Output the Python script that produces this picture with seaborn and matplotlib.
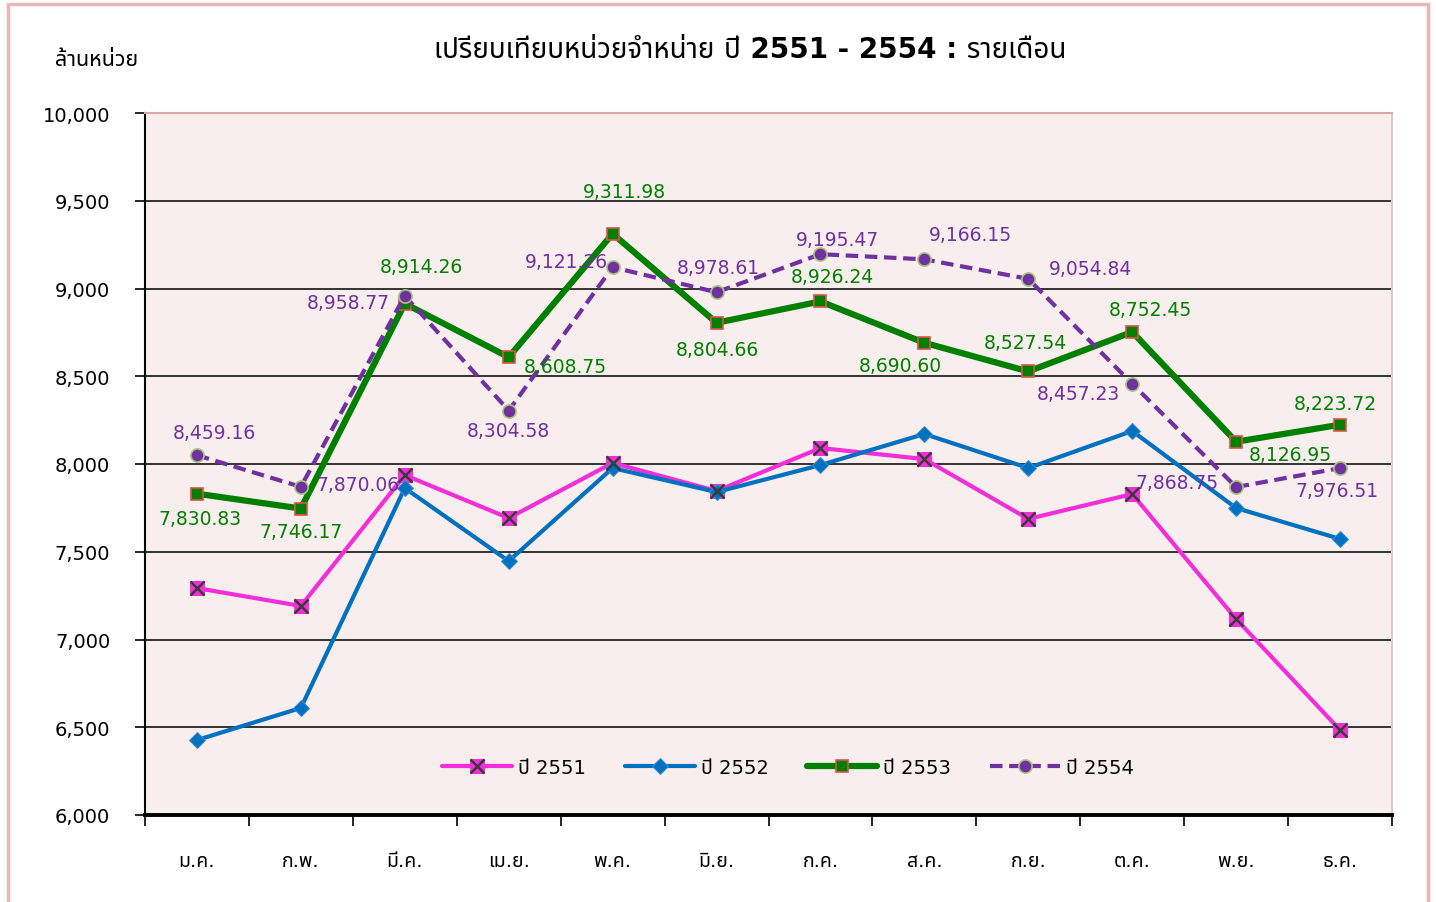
import matplotlib
matplotlib.use('Agg')
import matplotlib.pyplot as plt
import matplotlib.font_manager as fm
from matplotlib.patches import Rectangle
from matplotlib.ticker import FuncFormatter, MultipleLocator
from matplotlib.legend_handler import HandlerTuple
import seaborn as sns
import pandas as pd

#----------- DATA -----------
months = ['ม.ค.', 'ก.พ.', 'มี.ค.', 'เม.ย.', 'พ.ค.', 'มิ.ย.',
          'ก.ค.', 'ส.ค.', 'ก.ย.', 'ต.ค.', 'พ.ย.', 'ธ.ค.']
y2551 = [7293, 7191, 7937, 7692, 8006, 7846, 8091, 8028, 7687, 7829, 7117, 6484]
y2552 = [6427, 6610, 7863, 7447, 7977, 7840, 7994, 8171, 7977, 8188, 7749, 7573]
y2553 = [7830.83, 7746.17, 8914.26, 8608.75, 9311.98, 8804.66,
         8926.24, 8690.60, 8527.54, 8752.45, 8126.95, 8223.72]
y2554 = [8050.00, 7870.06, 8958.77, 8304.58, 9121.26, 8978.61,
         9195.47, 9166.15, 9054.84, 8457.23, 7868.75, 7976.51]
labels2554 = ['8,459.16', '7,870.06', '8,958.77', '8,304.58', '9,121.26', '8,978.61',
              '9,195.47', '9,166.15', '9,054.84', '8,457.23', '7,868.75', '7,976.51']
series_names = ['ปี 2551', 'ปี 2552', 'ปี 2553', 'ปี 2554']
title = 'เปรียบเทียบหน่วยจำหน่าย ปี 2551 - 2554 : รายเดือน'
unit = 'ล้านหน่วย'

# label offsets in pixels (dx, dy)
off2553 = [(3, -25), (0, -23), (17, 37), (57, -9), (12, 42), (1, -27),
           (12, 25), (-24, -23), (-3, 29), (18, 22), (54, -13), (-5, 21)]
off2554 = [(17, 23), (57, 2), (-56, -7), (0, -20), (-46, 6), (2, 25),
           (17, 15), (46, 25), (62, 10), (-54, -10), (-59, 5), (-3, -22)]

#----------- FONT (need Thai glyphs) -----------
thai_font = None
try:
    from fontTools.ttLib import TTFont
    found = []
    for f in fm.fontManager.ttflist:
        try:
            cmap = TTFont(f.fname, fontNumber=0, lazy=True).getBestCmap()
            if cmap and 0x0E01 in cmap:
                found.append(f.name)
        except Exception:
            pass
    for pref in ['Tahoma', 'Noto Sans Thai', 'Noto Sans Thai UI', 'Loma', 'Garuda', 'Sarabun']:
        if pref in found:
            thai_font = pref
            break
    if thai_font is None and found:
        thai_font = found[0]
except Exception:
    pass

sns.set_style('white')
fams = ['DejaVu Sans']
if thai_font:
    fams.append(thai_font)
plt.rcParams['font.family'] = fams
plt.rcParams['text.color'] = 'black'
plt.rcParams['xtick.color'] = 'black'
plt.rcParams['ytick.color'] = 'black'

df = pd.DataFrame({'x': list(range(12)) * 4,
                   'value': y2551 + y2552 + y2553 + y2554,
                   'series': sum([[n] * 12 for n in series_names], [])})

#----------- PLOT -----------
fig = plt.figure(figsize=(14.36, 9.03), dpi=100)
ax = fig.add_axes([145 / 1436, 87 / 903, 1247 / 1436, 702 / 903])
ax.set_facecolor('#f9eeee')

# outer chart border (bottom edge runs off the image)
fig.patches.append(Rectangle((8 / 1436, -0.02), 1420 / 1436, 0.02 + (1 - 5 / 903),
                             transform=fig.transFigure, fill=False,
                             edgecolor='#e6b9b8', linewidth=2.5))

c51, c52, c53, c54 = '#f22ed9', '#0070c0', '#008000', '#7030a0'

d = df[df.series == series_names[0]]
sns.lineplot(data=d, x='x', y='value', ax=ax, color=c51, linewidth=3,
             marker='s', markersize=10, markerfacecolor=c51, markeredgecolor=c51, zorder=3)
sns.lineplot(data=d, x='x', y='value', ax=ax, color=c51, linewidth=0,
             marker='x', markersize=10, markeredgecolor='#3a3a3a', markeredgewidth=1.8, zorder=4)

d = df[df.series == series_names[1]]
sns.lineplot(data=d, x='x', y='value', ax=ax, color=c52, linewidth=3,
             marker='D', markersize=8, markerfacecolor=c52, markeredgecolor='#3d8fd0', zorder=3)

d = df[df.series == series_names[2]]
sns.lineplot(data=d, x='x', y='value', ax=ax, color=c53, linewidth=4.5,
             marker='s', markersize=8, markerfacecolor=c53, markeredgecolor='#d9534f',
             markeredgewidth=1.2, zorder=3)

d = df[df.series == series_names[3]]
sns.lineplot(data=d, x='x', y='value', ax=ax, color=c54, linewidth=3, linestyle=(0, (3, 1.6)),
             marker='o', markersize=9.5, markerfacecolor=c54, markeredgecolor='#a9c47f',
             markeredgewidth=1.2, zorder=3)

# data labels
for i in range(12):
    ax.annotate(f'{y2553[i]:,.2f}', (i, y2553[i]), xytext=off2553[i], textcoords='offset pixels',
                ha='center', va='center', color=c53, fontsize=13.5, zorder=5)
    ax.annotate(labels2554[i], (i, y2554[i]), xytext=off2554[i], textcoords='offset pixels',
                ha='center', va='center', color=c54, fontsize=13.5, zorder=5)

#----------- AXES -----------
ax.set_xlim(-0.5, 11.5)
ax.set_ylim(6000, 10000)
ax.yaxis.set_major_locator(MultipleLocator(500))
ax.yaxis.set_major_formatter(FuncFormatter(lambda v, p: f'{v:,.0f}'))
ax.grid(axis='y', color='black', linewidth=1.1)
ax.grid(axis='x', visible=False)

ax.set_xticks(range(12))
ax.set_xticklabels(months, fontsize=14)
ax.set_xticks([i - 0.5 for i in range(13)], minor=True)
ax.tick_params(axis='x', which='major', bottom=True, length=0, pad=26)
ax.tick_params(axis='x', which='minor', bottom=True, length=8, width=1.2, color='black', direction='out')
ax.tick_params(axis='y', left=True, length=7, width=1.2, color='black', direction='out',
               labelsize=14, pad=18)

ax.spines['left'].set_color('black')
ax.spines['left'].set_linewidth(1.5)
ax.spines['bottom'].set_color('black')
ax.spines['bottom'].set_linewidth(2.8)
ax.spines['top'].set_color('#d9a8a8')
ax.spines['top'].set_linewidth(1.5)
ax.spines['right'].set_color('#e0c8c8')
ax.spines['right'].set_linewidth(1.5)
ax.set_xlabel('')
ax.set_ylabel('')

#----------- LEGEND -----------
lines = ax.get_lines()
handles = [(lines[0], lines[1]), lines[2], lines[3], lines[4]]
ax.legend(handles, series_names, ncol=4, loc='center', bbox_to_anchor=(0.5156, 0.068),
          frameon=False, fontsize=14, handlelength=3.6, columnspacing=2.0, handletextpad=0.3,
          handler_map={tuple: HandlerTuple(ndivide=1, pad=0)})

fig.text(750 / 1436, 1 - 50 / 903, title, ha='center', va='center', fontsize=20, fontweight='bold')
fig.text(97 / 1436, 1 - 60 / 903, unit, ha='center', va='center', fontsize=15.5, fontweight='bold')

plt.savefig('out.png', dpi=100)
